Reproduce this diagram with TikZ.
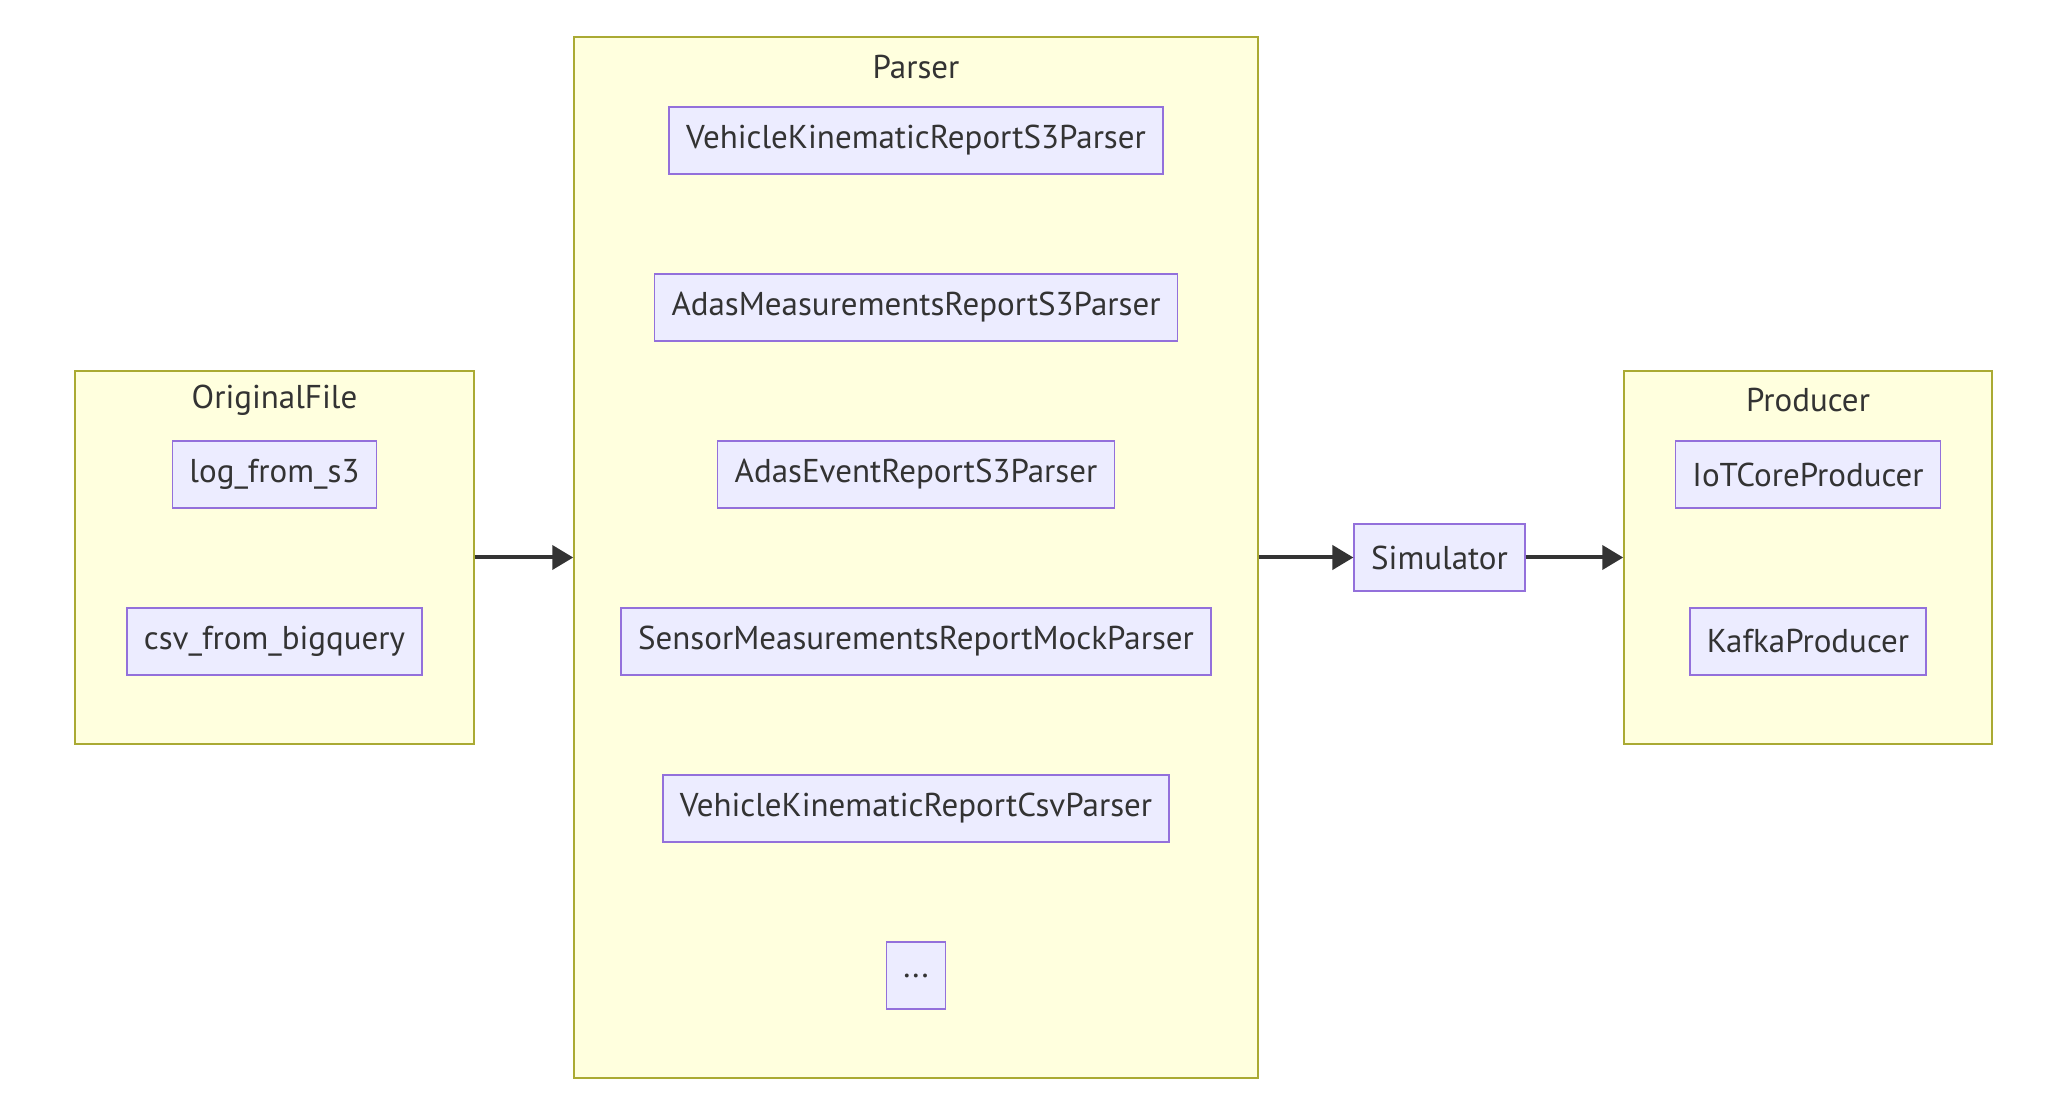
\documentclass[tikz,border=0pt]{standalone}
\usepackage{fontspec}
\setmainfont{PT Sans}
\usetikzlibrary{arrows.meta}
\definecolor{clusterfill}{HTML}{FFFFDE}
\definecolor{clusterline}{HTML}{AAAA33}
\definecolor{boxfill}{HTML}{ECECFF}
\definecolor{boxline}{HTML}{9370DB}
\definecolor{ink}{HTML}{333333}

\begin{document}
\begin{tikzpicture}[x=0.4pt,y=-0.4pt,
    cluster/.style={draw=clusterline, fill=clusterfill, line width=0.6pt},
    title/.style={text=ink, font=\fontsize{13.2}{15}\selectfont},
    item/.style={draw=boxline, fill=boxfill, line width=0.6pt, text=ink,
      minimum height=26.8pt, inner xsep=6.8pt, font=\fontsize{13.2}{15}\selectfont},
    flow/.style={draw=ink, line width=1.6pt, -{Triangle[length=8.4pt,width=9.6pt]}}]
    \useasboundingbox (0,0) rectangle (2054,1110);

    % subgraphs
    \node[cluster, minimum width=159.6pt, minimum height=149.2pt] (original) at (274.5,557.5) {};
    \node[cluster, minimum width=273.6pt, minimum height=416.4pt] (parser) at (916,557.5) {};
    \node[cluster, minimum width=147.2pt, minimum height=149.2pt] (producer) at (1808,557.5) {};
    \node[title] (originalTitle) at (274.5,400) {OriginalFile};
    \node[title] (parserTitle) at (916,67) {Parser};
    \node[title] (producerTitle) at (1808,400) {Producer};

    % OriginalFile
    \node[item] (logS3) at (274.5,474.5) {log\_from\_s3};
    \node[item] (csvBq) at (274.5,641.5) {csv\_from\_bigquery};

    % Parser
    \node[item] (vkS3) at (916,140.5) {VehicleKinematicReportS3Parser};
    \node[item] (adasMeas) at (916,307.5) {AdasMeasurementsReportS3Parser};
    \node[item] (adasEvent) at (916,474.5) {AdasEventReportS3Parser};
    \node[item] (sensorMock) at (916,641.5) {SensorMeasurementsReportMockParser};
    \node[item] (vkCsv) at (916,808.5) {VehicleKinematicReportCsvParser};
    \node[item] (more) at (916,975.5) {...};

    \node[item] (simulator) at (1439.5,557.5) {Simulator};

    % Producer
    \node[item] (iotCore) at (1808,474.5) {IoTCoreProducer};
    \node[item] (kafka) at (1808,641.5) {KafkaProducer};

    \draw[flow] (original.east) -- (parser.west);
    \draw[flow] (parser.east) -- (simulator.west);
    \draw[flow] (simulator.east) -- (producer.west);
\end{tikzpicture}
\end{document}
